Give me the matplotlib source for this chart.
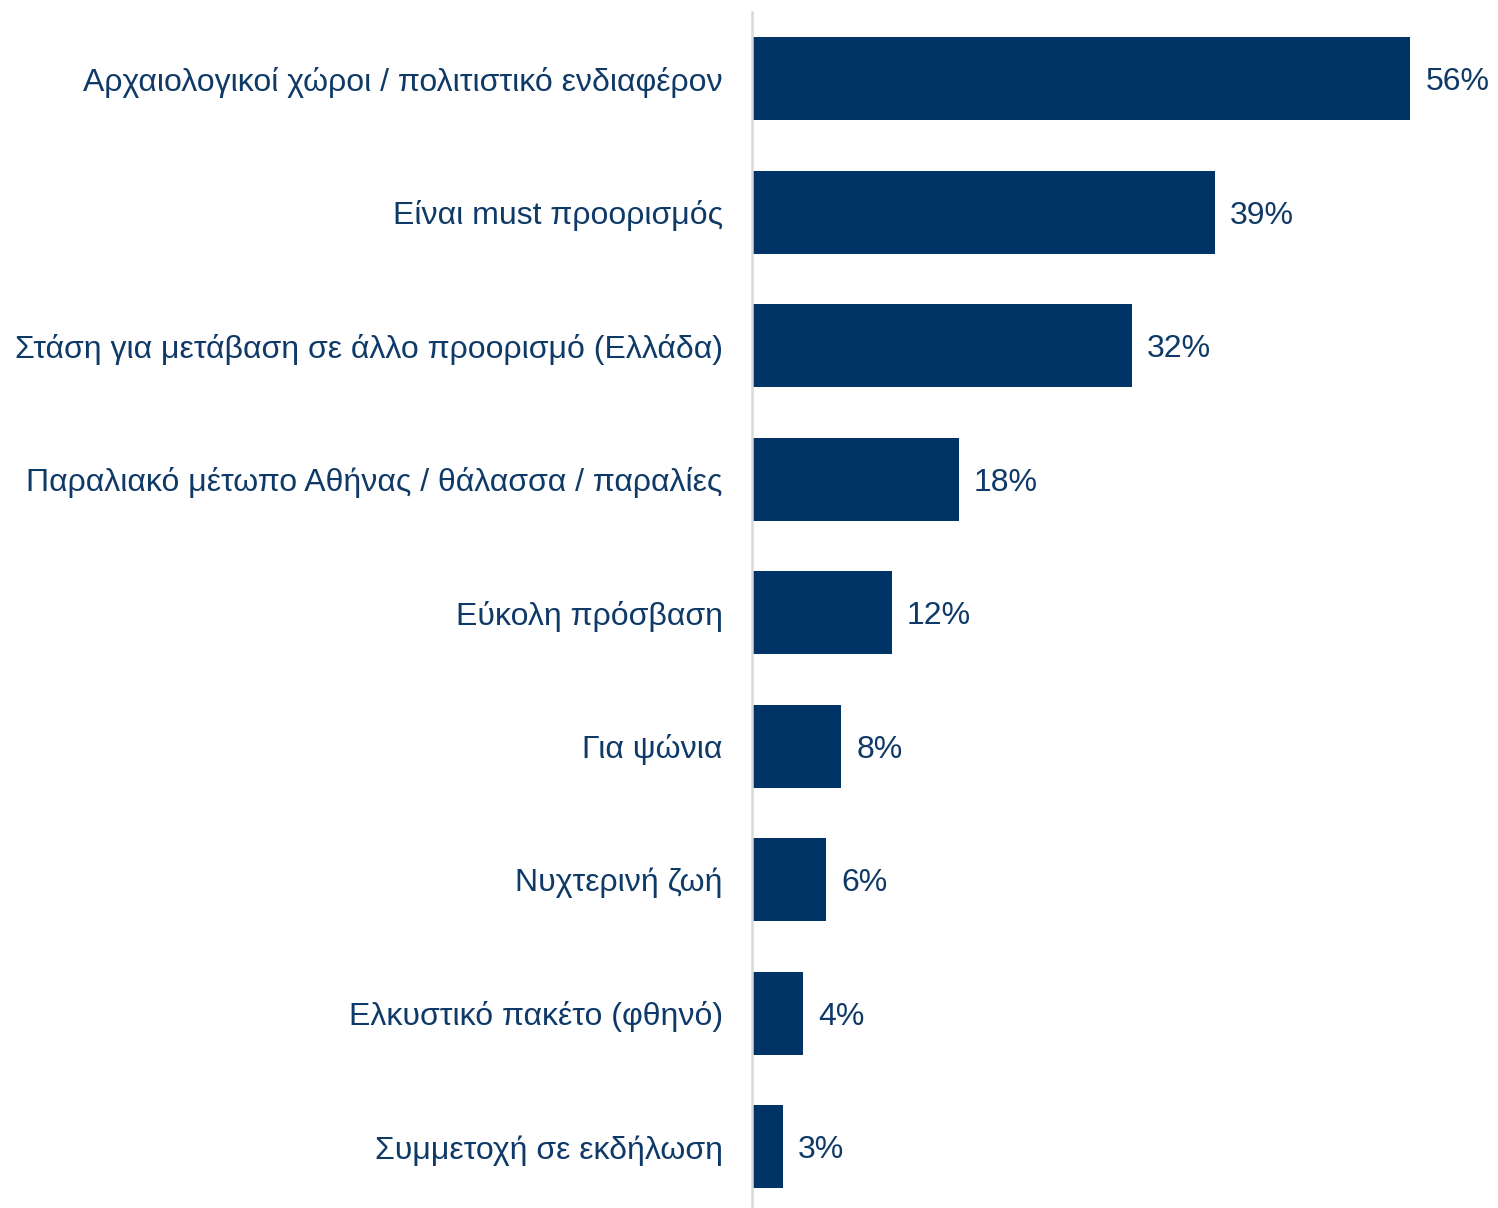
import matplotlib.pyplot as plt

plt.rcParams['font.family'] = ['Liberation Sans', 'DejaVu Sans']

# reasons (top to bottom) and share of respondents (%), bar lengths
reasons = [
    "Αρχαιολογικοί χώροι / πολιτιστικό ενδιαφέρον",
    "Είναι must προορισμός",
    "Στάση για μετάβαση σε άλλο προορισμό (Ελλάδα)",
    "Παραλιακό μέτωπο Αθήνας / θάλασσα / παραλίες",
    "Εύκολη πρόσβαση",
    "Για ψώνια",
    "Νυχτερινή ζωή",
    "Ελκυστικό πακέτο (φθηνό)",
    "Συμμετοχή σε εκδήλωση",
]
shares = [56.0, 39.4, 32.3, 17.6, 11.9, 7.6, 6.3, 4.3, 2.6]

BAR = '#003466'
TXT = '#0F3A68'

fig = plt.figure(figsize=(14.98, 12.08), dpi=100)
ax = fig.add_axes([752 / 1498, -5.5 / 1208, (1410 - 752) / 1498, 1201.5 / 1208])

pos = list(range(len(reasons)))
ax.barh(pos, shares, height=0.62, color=BAR)
ax.set_xlim(0, 56)
ax.set_ylim(len(reasons) - 0.5, -0.5)

for y, v in zip(pos, shares):
    ax.annotate('%d%%' % round(v), (v, y), xytext=(11, 0), textcoords='offset points',
                va='center_baseline', ha='left', fontsize=23, color=TXT,
                annotation_clip=False)

ax.set_yticks(pos)
ax.set_yticklabels(reasons, fontsize=23, color=TXT)
ax.tick_params(axis='y', length=0, pad=21)
ax.set_xticks([])

for s in ['top', 'right', 'bottom']:
    ax.spines[s].set_visible(False)
ax.spines['left'].set_color('#d9d9d9')
ax.spines['left'].set_linewidth(1.8)

fig.savefig('out.png', dpi=100)
